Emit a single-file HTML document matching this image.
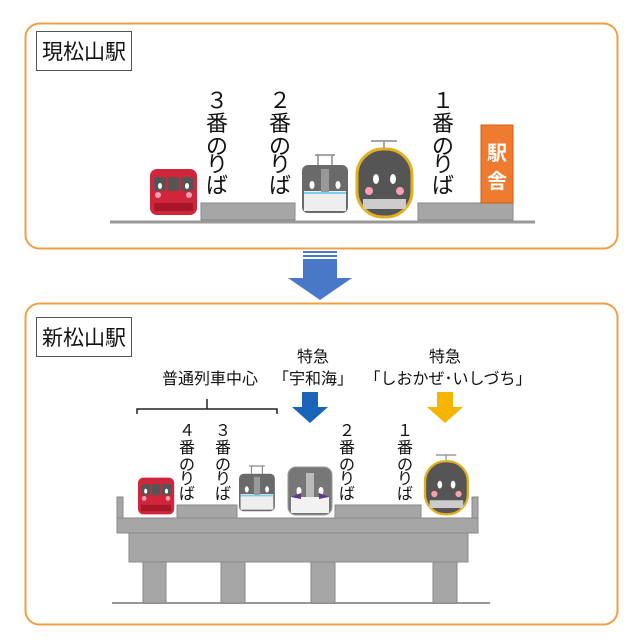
<!DOCTYPE html>
<html><head><meta charset="utf-8"><style>
html,body{margin:0;padding:0;background:#fff;}
svg{display:block;}
text{font-family:"Liberation Sans","Noto Sans CJK JP",sans-serif;fill:#111;}
</style></head><body>
<svg width="640" height="640" viewBox="0 0 640 640" xmlns="http://www.w3.org/2000/svg">
<defs>
<g id="redtrain">
 <rect x="0" y="2" width="47" height="46" rx="7" fill="#d0253a"/>
 <rect x="4" y="10" width="12" height="14" rx="2" fill="#555"/>
 <rect x="18" y="10" width="11" height="14" rx="2" fill="#555"/>
 <rect x="31" y="10" width="12" height="14" rx="2" fill="#555"/>
 <ellipse cx="10" cy="19" rx="2" ry="3" fill="#fff"/><ellipse cx="37" cy="19" rx="2" ry="3" fill="#fff"/>
 <circle cx="8" cy="28" r="3" fill="#f7a0b4"/><circle cx="39" cy="28" r="3" fill="#f7a0b4"/>
 <rect x="4" y="36" width="39" height="8" fill="#a8162a"/>
</g>
<g id="greytrain">
 <path d="M13 0h20M16 0v10M30 0v10" stroke="#888" stroke-width="1.5" fill="none"/>
 <rect x="0" y="10" width="46" height="48" rx="6" fill="#6a6a6a"/>
 <rect x="2" y="36" width="42" height="20" fill="#eee"/>
 <rect x="19" y="14" width="8" height="24" fill="#999"/>
 <ellipse cx="10" cy="30" rx="2.5" ry="4" fill="#fff"/><ellipse cx="36" cy="30" rx="2.5" ry="4" fill="#fff"/>
 <rect x="2" y="37" width="42" height="2" fill="#7ad0f0"/>
</g>
<g id="yellowtrain">
 <path d="M14 0h26M27 0v8" stroke="#888" stroke-width="1.5"/>
 <rect x="0" y="8" width="55" height="68" rx="26" fill="#555" stroke="#e0b020" stroke-width="3"/>
 <ellipse cx="19" cy="38" rx="3" ry="5" fill="#fff"/><ellipse cx="36" cy="38" rx="3" ry="5" fill="#fff"/>
 <circle cx="12" cy="50" r="4" fill="#f7a0b4"/><circle cx="43" cy="50" r="4" fill="#f7a0b4"/>
 <rect x="6" y="58" width="43" height="10" fill="#ccc"/>
</g>
<g id="whitetrain">
 <rect x="0" y="0" width="44" height="48" rx="8" fill="#777" stroke="#999" stroke-width="1"/>
 <rect x="3" y="30" width="38" height="16" fill="#f2f2f2"/>
 <rect x="18" y="6" width="8" height="24" fill="#bbb"/>
 <ellipse cx="11" cy="24" rx="2.5" ry="4" fill="#fff"/><ellipse cx="33" cy="24" rx="2.5" ry="4" fill="#fff"/>
 <path d="M3 30l10 -4v6zM41 30l-10 -4v6z" fill="#5a3a8a"/>
</g>
</defs>

<rect x="25.5" y="23.5" width="592" height="225" rx="14" fill="#fff" stroke="#f0a040" stroke-width="2"/>
<rect x="36.5" y="31.5" width="95" height="39" fill="#fff" stroke="#555" stroke-width="1"/>
<text x="84" y="59" font-size="21" text-anchor="middle">現松山駅</text>

<line x1="110" y1="222" x2="535" y2="222" stroke="#999" stroke-width="3"/>
<rect x="201" y="203" width="94" height="17" fill="#a6a6a6" stroke="#888"/>
<rect x="418" y="203" width="95" height="17" fill="#a6a6a6" stroke="#888"/>
<rect x="481" y="125" width="32" height="78" fill="#ee7b2f" stroke="#d06010"/>
<text x="497" y="160" font-size="20" text-anchor="middle" style="fill:#fff" font-weight="bold">駅</text>
<text x="497" y="188" font-size="20" text-anchor="middle" style="fill:#fff" font-weight="bold">舎</text>
<use href="#redtrain" x="150" y="167"/>
<use href="#greytrain" x="302" y="155"/>
<use href="#yellowtrain" x="357" y="141"/>
<g font-size="22" text-anchor="middle">
<text x="217" y="108">３</text><text x="217" y="131">番</text><text x="217" y="154">の</text><text x="217" y="172">り</text><text x="217" y="193">ば</text>
<text x="280" y="108">２</text><text x="280" y="131">番</text><text x="280" y="154">の</text><text x="280" y="172">り</text><text x="280" y="193">ば</text>
<text x="443" y="108">１</text><text x="443" y="131">番</text><text x="443" y="154">の</text><text x="443" y="172">り</text><text x="443" y="193">ば</text>
</g>

<rect x="303" y="251" width="34" height="2" fill="#4a78c8"/>
<rect x="303" y="255" width="34" height="2" fill="#4a78c8"/>
<path d="M303 259h34v19h15l-32 22l-32 -22h15z" fill="#4a78c8"/>

<rect x="25.5" y="303.5" width="592" height="321" rx="14" fill="#fff" stroke="#f0a040" stroke-width="2"/>
<rect x="36.5" y="317.5" width="95" height="39" fill="#fff" stroke="#555" stroke-width="1"/>
<text x="84" y="345" font-size="21" text-anchor="middle">新松山駅</text>

<g font-size="16" text-anchor="middle">
<text x="313" y="362">特急</text>
<text x="313" y="384">「宇和海」</text>
<text x="210" y="384">普通列車中心</text>
<text x="445" y="362">特急</text>
<text x="448" y="384">「しおかぜ･いしづち」</text>
</g>
<path d="M137 414v-5h140v5M207 409v-10" stroke="#222" stroke-width="1.5" fill="none"/>
<path d="M302 392h16v15h10l-18 16l-18 -16h10z" fill="#1a64b8"/>
<path d="M437 392h16v15h10l-18 16l-18 -16h10z" fill="#f5b400"/>

<line x1="112" y1="603" x2="490" y2="603" stroke="#999" stroke-width="2"/>
<g fill="#a6a6a6" stroke="#888">
<rect x="143" y="562" width="23" height="41"/>
<rect x="221" y="562" width="24" height="41"/>
<rect x="311" y="562" width="24" height="41"/>
<rect x="433" y="562" width="24" height="41"/>
<rect x="129" y="533" width="339" height="29"/>
<rect x="117" y="518" width="361" height="15"/>
<rect x="117" y="497" width="6" height="21"/>
<rect x="472" y="497" width="6" height="21"/>
<rect x="177" y="505" width="60" height="13"/>
<rect x="335" y="505" width="86" height="13"/>
</g>
<g transform="translate(138,476) scale(0.77,0.8)"><use href="#redtrain"/></g>
<g transform="translate(239,466) scale(0.78)"><use href="#greytrain"/></g>
<use href="#whitetrain" x="288" y="467"/>
<g transform="translate(425,455) scale(0.78)"><use href="#yellowtrain"/></g>
<g font-size="16" text-anchor="middle">
<text x="187" y="436">４</text><text x="187" y="453">番</text><text x="187" y="470">の</text><text x="187" y="484">り</text><text x="187" y="499">ば</text>
<text x="223" y="436">３</text><text x="223" y="453">番</text><text x="223" y="470">の</text><text x="223" y="484">り</text><text x="223" y="499">ば</text>
<text x="347" y="436">２</text><text x="347" y="453">番</text><text x="347" y="470">の</text><text x="347" y="484">り</text><text x="347" y="499">ば</text>
<text x="405" y="436">１</text><text x="405" y="453">番</text><text x="405" y="470">の</text><text x="405" y="484">り</text><text x="405" y="499">ば</text>
</g>
</svg>
</body></html>
